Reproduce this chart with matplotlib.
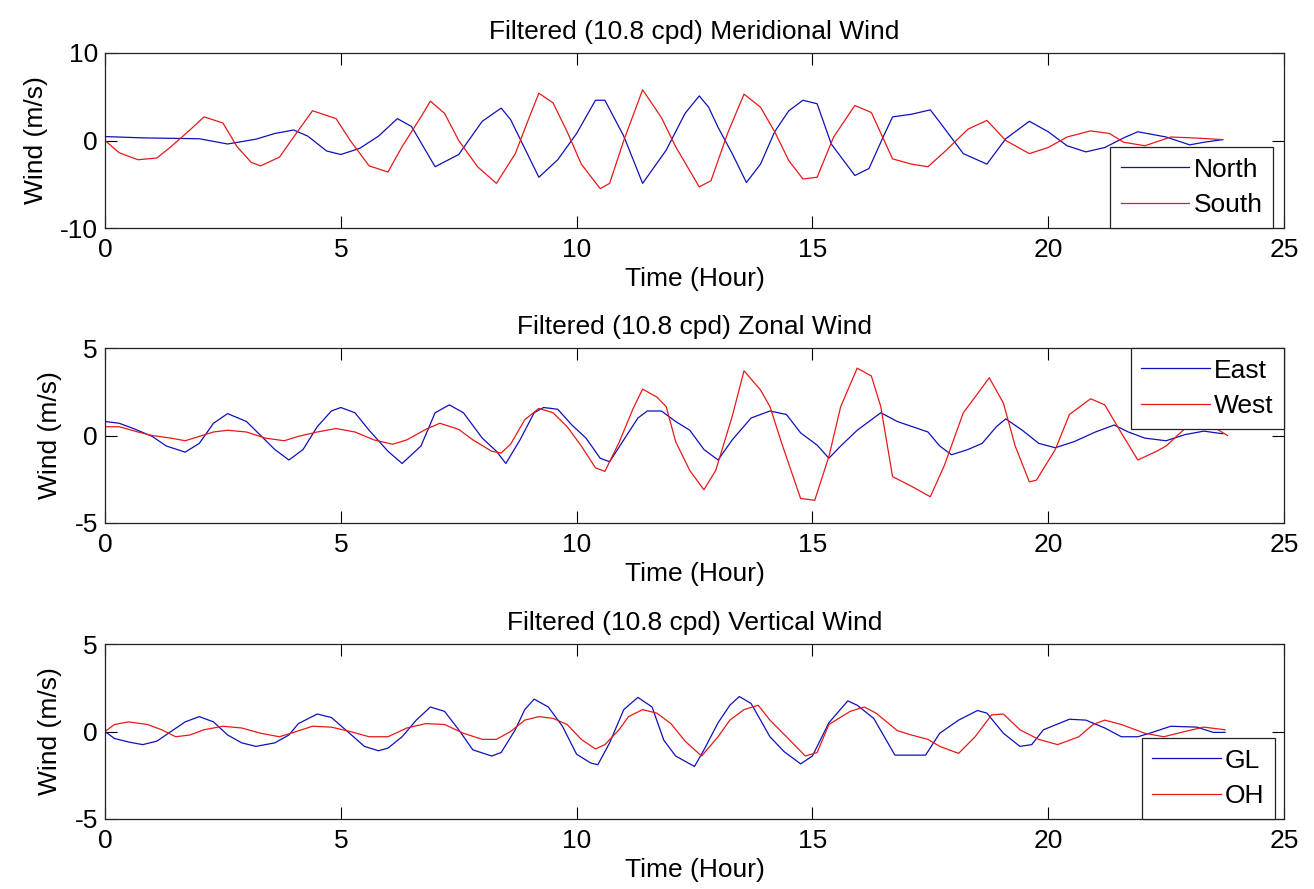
import matplotlib
matplotlib.use('Agg')
import matplotlib.pyplot as plt

plt.rcParams['font.family'] = ['Liberation Sans', 'DejaVu Sans']
plt.rcParams['axes.unicode_minus'] = False

# ---- Meridional wind ----
north_t = [0, 0.8, 2.0, 2.6, 3.2, 3.6, 4.0, 4.3, 4.7, 5.0,
           5.4, 5.8, 6.2, 6.5, 7.0, 7.5, 8.0, 8.4, 8.6, 9.2,
           9.6, 10.0, 10.4, 10.6, 11.0, 11.4, 11.9, 12.3, 12.6, 12.8,
           13.0, 13.3, 13.6, 13.9, 14.2, 14.5, 14.8, 15.1, 15.4, 15.9,
           16.2, 16.5, 16.7, 17.1, 17.5, 17.7, 18.2, 18.7, 19.1, 19.6,
           20.0, 20.4, 20.8, 21.2, 21.6, 21.9, 22.5, 23.0, 23.3, 23.7]
north = [0.45, 0.3, 0.2, -0.4, 0.15, 0.8, 1.2, 0.5, -1.2, -1.6,
         -0.9, 0.5, 2.5, 1.6, -3.0, -1.6, 2.2, 3.7, 2.4, -4.2,
         -2.2, 0.8, 4.6, 4.6, 0.5, -4.9, -1.1, 3.1, 5.1, 3.8,
         1.5, -1.5, -4.8, -2.7, 1.0, 3.4, 4.6, 4.2, -0.4, -4.0,
         -3.2, 0.4, 2.7, 3.0, 3.5, 2.1, -1.5, -2.7, 0.2, 2.2,
         1.0, -0.6, -1.3, -0.8, 0.3, 1.0, 0.4, -0.5, -0.2, 0.1]

south_t = [0, 0.3, 0.7, 1.1, 1.4, 1.8, 2.1, 2.5, 2.8, 3.1,
           3.3, 3.7, 4.0, 4.4, 4.9, 5.2, 5.6, 6.0, 6.3, 6.7,
           6.9, 7.2, 7.5, 7.9, 8.3, 8.7, 9.0, 9.2, 9.5, 9.8,
           10.1, 10.5, 10.7, 11.0, 11.4, 11.8, 12.1, 12.6, 12.85, 13.2,
           13.55, 13.9, 14.2, 14.5, 14.8, 15.1, 15.45, 15.9, 16.25, 16.7,
           17.1, 17.45, 17.8, 18.3, 18.7, 19.1, 19.6, 20.0, 20.4, 20.9,
           21.3, 21.6, 22.05, 22.6, 23.05, 23.4, 23.7]
south = [0, -1.4, -2.2, -2.0, -0.7, 1.2, 2.7, 2.0, -0.7, -2.5,
         -2.9, -1.9, 0.4, 3.4, 2.5, 0.0, -2.9, -3.6, -0.7, 2.7,
         4.5, 3.1, 0.0, -3.0, -4.9, -1.5, 2.7, 5.4, 4.3, 1.0,
         -2.7, -5.5, -4.9, 0.0, 5.8, 2.6, -0.7, -5.3, -4.6, 0.8,
         5.3, 3.8, 1.0, -2.3, -4.4, -4.2, 0.4, 4.0, 3.2, -2.1,
         -2.7, -3.0, -1.3, 1.3, 2.3, 0.0, -1.5, -0.8, 0.4, 1.1,
         0.8, -0.2, -0.6, 0.4, 0.3, 0.2, 0.1]

# ---- Zonal wind ----
east_t = [0, 0.3, 0.6, 1.0, 1.3, 1.7, 2.0, 2.3, 2.6, 3.0,
          3.3, 3.6, 3.9, 4.2, 4.5, 4.8, 5.0, 5.3, 5.6, 6.0,
          6.3, 6.7, 7.0, 7.3, 7.6, 8.0, 8.3, 8.5, 8.8, 9.1,
          9.3, 9.6, 9.9, 10.2, 10.5, 10.7, 11.0, 11.3, 11.5, 11.8,
          12.1, 12.4, 12.7, 13.0, 13.3, 13.7, 14.1, 14.45, 14.75, 15.1,
          15.35, 15.6, 15.95, 16.45, 16.8, 17.45, 17.7, 17.95, 18.3, 18.6,
          18.9, 19.1, 19.45, 19.8, 20.15, 20.55, 21.0, 21.4, 21.7, 22.05,
          22.5, 22.9, 23.3, 23.7]
east = [0.8, 0.7, 0.4, -0.05, -0.6, -0.95, -0.45, 0.7, 1.25, 0.8,
        0.0, -0.8, -1.4, -0.8, 0.5, 1.4, 1.6, 1.3, 0.3, -0.9,
        -1.6, -0.6, 1.3, 1.75, 1.3, -0.15, -0.9, -1.6, -0.25, 1.3,
        1.6, 1.5, 0.6, -0.15, -1.3, -1.5, -0.25, 1.0, 1.4, 1.4,
        0.8, 0.3, -0.8, -1.4, -0.25, 1.0, 1.4, 1.2, 0.15, -0.55,
        -1.3, -0.6, 0.3, 1.3, 0.8, 0.2, -0.6, -1.1, -0.8, -0.45,
        0.5, 0.95, 0.3, -0.45, -0.7, -0.35, 0.2, 0.6, 0.2, -0.15,
        -0.3, 0.05, 0.25, 0.1]

west_t = [0, 0.3, 0.7, 1.0, 1.4, 1.7, 2.0, 2.3, 2.6, 3.0,
          3.4, 3.8, 4.1, 4.5, 4.9, 5.3, 5.7, 6.1, 6.4, 6.8,
          7.1, 7.5, 7.8, 8.2, 8.4, 8.6, 8.9, 9.2, 9.5, 9.8,
          10.1, 10.4, 10.6, 10.9, 11.2, 11.4, 11.7, 11.9, 12.1, 12.4,
          12.7, 12.95, 13.3, 13.55, 13.9, 14.1, 14.35, 14.75, 15.05, 15.35,
          15.6, 15.95, 16.25, 16.45, 16.7, 17.1, 17.5, 17.8, 18.2, 18.45,
          18.75, 19.05, 19.3, 19.6, 19.75, 20.15, 20.45, 20.9, 21.2, 21.55,
          21.9, 22.3, 22.5, 22.9, 23.2, 23.5, 23.8]
west = [0.5, 0.5, 0.2, 0.0, -0.15, -0.3, -0.05, 0.2, 0.3, 0.2,
        -0.15, -0.3, -0.05, 0.2, 0.4, 0.2, -0.25, -0.5, -0.25, 0.35,
        0.7, 0.35, -0.25, -0.9, -1.0, -0.5, 0.9, 1.55, 1.3, 0.5,
        -0.6, -1.85, -2.05, -0.4, 1.55, 2.65, 2.2, 1.65, -0.35, -2.0,
        -3.1, -2.0, 1.1, 3.7, 2.6, 1.65, -0.45, -3.6, -3.7, -1.2,
        1.65, 3.85, 3.4, 1.65, -2.35, -2.9, -3.5, -1.7, 1.3, 2.2,
        3.3, 1.85, -0.6, -2.65, -2.55, -0.8, 1.2, 2.1, 1.75, 0.15,
        -1.4, -0.9, -0.6, 0.4, 0.7, 0.5, 0.0]

# ---- Vertical wind ----
gl_t = [0, 0.2, 0.5, 0.8, 1.1, 1.4, 1.7, 2.0, 2.3, 2.6,
        2.9, 3.2, 3.6, 3.9, 4.1, 4.5, 4.8, 5.1, 5.5, 5.8,
        6.0, 6.3, 6.6, 6.9, 7.2, 7.5, 7.8, 8.2, 8.4, 8.7,
        8.9, 9.1, 9.4, 9.7, 10.0, 10.3, 10.45, 10.7, 11.0, 11.3,
        11.6, 11.85, 12.1, 12.5, 12.7, 13.0, 13.25, 13.45, 13.7, 14.1,
        14.4, 14.75, 15.0, 15.35, 15.75, 15.95, 16.3, 16.75, 17.1, 17.4,
        17.7, 18.1, 18.5, 18.7, 19.05, 19.4, 19.65, 19.9, 20.45, 20.8,
        21.2, 21.55, 21.9, 22.15, 22.6, 23.15, 23.5, 23.75]
gl = [0.0, -0.4, -0.6, -0.75, -0.55, 0.0, 0.55, 0.85, 0.55, -0.2,
      -0.65, -0.85, -0.65, -0.2, 0.45, 1.0, 0.8, 0.1, -0.85, -1.1,
      -0.95, -0.3, 0.65, 1.4, 1.15, 0.1, -1.05, -1.4, -1.2, 0.1,
      1.25, 1.85, 1.4, 0.3, -1.3, -1.8, -1.9, -0.65, 1.25, 1.95,
      1.4, -0.5, -1.4, -2.0, -1.05, 0.5, 1.5, 2.0, 1.6, -0.3,
      -1.15, -1.85, -1.4, 0.5, 1.75, 1.5, 0.75, -1.35, -1.35, -1.35,
      -0.1, 0.65, 1.2, 1.05, -0.1, -0.85, -0.75, 0.1, 0.7, 0.65,
      0.2, -0.3, -0.3, -0.1, 0.3, 0.25, -0.05, -0.05]

oh_t = [0, 0.2, 0.5, 0.9, 1.2, 1.5, 1.8, 2.1, 2.5, 2.9,
        3.3, 3.7, 4.0, 4.4, 4.8, 5.2, 5.6, 6.0, 6.4, 6.8,
        7.2, 7.6, 8.0, 8.3, 8.6, 8.9, 9.2, 9.5, 9.8, 10.1,
        10.4, 10.6, 10.9, 11.1, 11.4, 11.7, 12.0, 12.3, 12.65, 13.0,
        13.25, 13.55, 13.85, 14.1, 14.45, 14.85, 15.1, 15.35, 15.8, 16.1,
        16.35, 16.8, 17.1, 17.45, 17.7, 18.1, 18.45, 18.8, 19.05, 19.4,
        19.8, 20.2, 20.65, 20.95, 21.2, 21.55, 22.05, 22.45, 22.9, 23.3, 23.75]
oh = [0.0, 0.4, 0.55, 0.4, 0.1, -0.3, -0.2, 0.1, 0.3, 0.2,
      -0.1, -0.3, -0.05, 0.3, 0.25, 0.0, -0.3, -0.3, 0.2, 0.45,
      0.4, -0.1, -0.45, -0.45, 0.0, 0.65, 0.85, 0.75, 0.4, -0.45,
      -1.0, -0.75, 0.1, 0.85, 1.25, 1.05, 0.45, -0.55, -1.4, -0.3,
      0.65, 1.25, 1.5, 0.65, -0.3, -1.4, -1.2, 0.4, 1.15, 1.4,
      1.05, 0.05, -0.2, -0.45, -0.85, -1.25, -0.3, 0.95, 1.0, 0.1,
      -0.45, -0.75, -0.3, 0.4, 0.65, 0.4, -0.1, -0.3, 0.0, 0.25, 0.1]

panels = [
    ('Filtered (10.8 cpd) Meridional Wind', (north_t, north, 'North'), (south_t, south, 'South'), 10),
    ('Filtered (10.8 cpd) Zonal Wind', (east_t, east, 'East'), (west_t, west, 'West'), 5),
    ('Filtered (10.8 cpd) Vertical Wind', (gl_t, gl, 'GL'), (oh_t, oh, 'OH'), 5),
]

FS = 19  # MATLAB uses one font size for everything here

W, H = 1314, 889
fig = plt.figure(figsize=(W / 100, H / 100), dpi=100)

# axes boxes in pixels: (top, bottom)
boxes = [(53, 228), (348, 523), (644, 819)]
left, right = 105, 1284
# legend anchors (x in axes fraction, y, loc)
leg_pos = [((1273 - left) / (right - left), 0, 'lower right'),
           (1.0, 1.0, 'upper right'),
           ((1275 - left) / (right - left), 0, 'lower right')]

for (title, s1, s2, lim), (top, bot), (lx, ly, loc) in zip(panels, boxes, leg_pos):
    ax = fig.add_axes([left / W, (H - bot) / H, (right - left) / W, (bot - top) / H])
    ax.plot(s1[0], s1[1], color='#1010b8', lw=0.9, label=s1[2])
    ax.plot(s2[0], s2[1], color='#e81818', lw=0.9, label=s2[2])
    ax.set_xlim(0, 25)
    ax.set_ylim(-lim, lim)
    ax.set_xticks([0, 5, 10, 15, 20, 25])
    ax.set_yticks([-lim, 0, lim])
    ax.tick_params(direction='in', length=8.5, width=0.8, top=True, right=True,
                   labelsize=FS)
    ax.tick_params(axis='x', pad=7.5)
    ax.tick_params(axis='y', pad=5)
    for sp in ax.spines.values():
        sp.set_linewidth(0.9)
        sp.set_color('#222222')
    ax.set_title(title, fontsize=FS, pad=10)
    ax.set_xlabel('Time (Hour)', fontsize=FS, labelpad=3)
    ax.set_ylabel('Wind (m/s)', fontsize=FS, labelpad=9)
    leg = ax.legend(loc=loc, bbox_to_anchor=(lx, ly), borderaxespad=0, fontsize=FS,
                    handlelength=2.6, handletextpad=0.15, labelspacing=0.45,
                    borderpad=0.4, fancybox=False, framealpha=1, edgecolor='#222222')
    leg.get_frame().set_linewidth(0.9)

fig.savefig('out.png', dpi=100)
